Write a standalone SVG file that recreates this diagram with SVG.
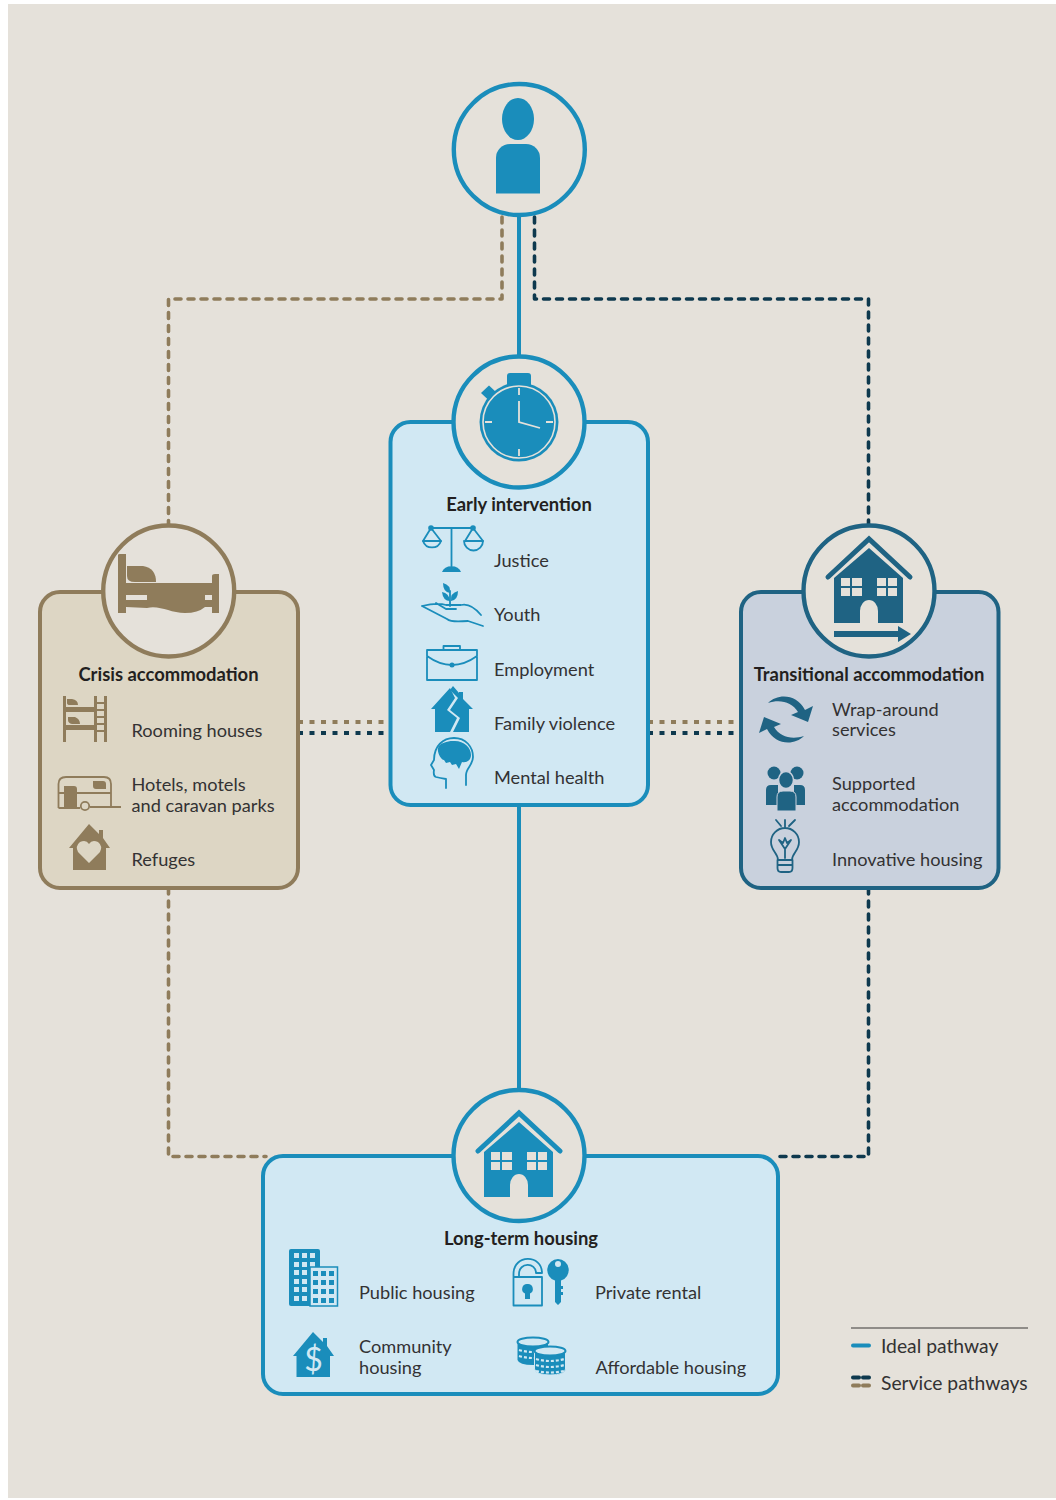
<svg xmlns="http://www.w3.org/2000/svg" width="1056" height="1500" viewBox="0 0 1056 1500">
<style>
text{font-family:"Lato","Liberation Sans",sans-serif;font-size:18.2px;fill:#333233}
.h{font-weight:700;font-size:18.4px;fill:#231f20;text-anchor:middle}
.lg{font-size:19.3px}
.box{stroke-width:4}
.ring{fill:#e5e1da;stroke-width:4.4}
.ideal{fill:none;stroke:#1a8dbb;stroke-width:4}
.tan{fill:none;stroke:#8f7c5b;stroke-width:3.6;stroke-dasharray:6 7;stroke-linecap:round;stroke-linejoin:round}
.navy{fill:none;stroke:#0e394e;stroke-width:3.6;stroke-dasharray:6 7;stroke-linecap:round;stroke-linejoin:round}
.tans{fill:none;stroke:#8f7c5b;stroke-width:4;stroke-dasharray:5 6.500}
.navys{fill:none;stroke:#0e394e;stroke-width:4;stroke-dasharray:5 6.500}
.b{fill:#1a8dbb}.bl{fill:none;stroke:#1a8dbb;stroke-width:1.8;stroke-linecap:round;stroke-linejoin:round}
.t{fill:#8f7c5b}.tl{fill:none;stroke:#8f7c5b;stroke-width:1.8}
.c{fill:#1f6383}.cl{fill:none;stroke:#1f6383;stroke-width:1.8;stroke-linecap:round;stroke-linejoin:round}
</style>
<defs>
<g id="house">
<path d="M478 1151L519 1113L560 1151" fill="none" stroke="currentColor" stroke-width="5" stroke-linecap="round" stroke-linejoin="miter"/>
<path d="M519 1122L553 1152V1197H528V1185A9 11 0 0 0 510 1185V1197H484V1152Z" fill="currentColor"/>
<path d="M491 1152h9v8h-9zM502 1152h10v8h-10zM491 1162h9v8h-9zM502 1162h10v8h-10zM527 1152h9v8h-9zM538 1152h9v8h-9zM527 1162h9v8h-9zM538 1162h9v8h-9z" fill="#e5e1da"/>
</g>
</defs>
<rect width="1056" height="1500" fill="#fff"/>
<rect x="8" y="4" width="1048" height="1494" fill="#e5e1da"/>

<g id="connectors">
<path class="ideal" d="M519 217V356M519 805V1090"/>
<path class="tan" d="M502 217V299H168.500V525"/>
<path class="navy" d="M534.500 217V299H868.500V525"/>
<path class="tan" d="M168.500 888V1156.500H266"/>
<path class="navy" d="M868.500 888V1156.500H775"/>
<path class="tans" d="M298 722H390M648 722H740"/>
<path class="navys" d="M298 733H390M648 733H740"/>
</g>

<g id="person">
<circle class="ring" cx="519.300" cy="149.500" r="65.500" stroke="#1a8dbb"/>
<ellipse class="b" cx="518" cy="119" rx="16" ry="21"/>
<path class="b" d="M496 193.500V158A14 14 0 0 1 510 144H526A14 14 0 0 1 540 158V193.500Z"/>
</g>

<g id="early-intervention">
<rect class="box" x="390.500" y="422" width="257.500" height="383" rx="20" fill="#d1e8f3" stroke="#1a8dbb"/>
<circle class="ring" cx="519" cy="422" r="65.500" stroke="#1a8dbb"/>
<path class="b" d="M507 385V376Q507 373 510 373H528Q531 373 531 376V385Z"/>
<path class="b" d="M481 393L489 385.500L497 393L489 400.500Z"/>
<circle class="b" cx="519" cy="422" r="39.500"/>
<circle cx="519" cy="422" r="36" fill="none" stroke="#e5e1da" stroke-width="1.6"/>
<path d="M519 388V395M519 449V456M485 422H492M546 422H553M519 401V422L540 428" fill="none" stroke="#e5e1da" stroke-width="1.8"/>
<text class="h" x="519" y="511">Early intervention</text>
<g id="icon-scale">
<path class="bl" d="M431 528H473M451.500 528V566M431 528L423 541H441ZM473 528L465 541H483Z"/>
<path class="bl" d="M423 541A9.500 9.500 0 0 0 441 541M464 541A9.500 9.500 0 0 0 483 541"/>
<circle class="b" cx="431" cy="528" r="2.800"/><circle class="b" cx="473" cy="528" r="2.800"/>
<path class="b" d="M442 572A10 8.500 0 0 1 461 572Z"/>
</g>
<g id="icon-hand">
<path class="bl" d="M422 606C430 604 440 603 446 605H461C469 603 476 609 481 615M422 606L447 619C452 623 461 621 468 621L483 626M436 603L446 609H456"/>
<path class="bl" d="M450 591V606"/>
<path class="b" d="M443 583Q451 585 450 593Q443 592 443 583ZM442 592Q449 593 450 601Q443 601 442 592ZM458 591Q458 600 451 601Q450 593 458 591Z"/>
</g>
<g id="icon-case">
<path class="bl" d="M427 650H477V680H427ZM443.500 650V646H460V650M427 656Q452 674 477 656"/>
<circle class="b" cx="452" cy="665" r="2.500"/>
</g>
<g id="icon-broken-house">
<path class="b" d="M450 688L431 709H435V732H450L457 718L447 710L455 698Z"/>
<path class="b" d="M453 686L459 693V692H463V699L473 709H469V732H453L460 718L450 710L458 698L450 690Z"/>
</g>
<g id="icon-head">
<path class="bl" d="M446 788V779Q440 778 436 777Q433 776 434 770L431 765L434 760C434 746 443 738 454 738C466 738 473 747 473 757C473 765 466 768 466 775V785"/>
<path class="b" d="M438 748C440 743 447 741 453 741C463 740 471 747 471 755C471 760 467 763 462 762L459 769L456 764L452 765L450 762L446 763L444 760C441 760 437 752 438 748Z"/>
</g>
<text x="494" y="567">Justice</text>
<text x="494" y="621">Youth</text>
<text x="494" y="676">Employment</text>
<text x="494" y="730">Family violence</text>
<text x="494" y="784">Mental health</text>
</g>

<g id="crisis-accommodation">
<rect class="box" x="40" y="592" width="258" height="296" rx="20" fill="#ddd6c4" stroke="#8f7c5b"/>
<circle class="ring" cx="168.700" cy="591" r="65.500" stroke="#8f7c5b"/>
<g id="icon-bed">
<path class="t" d="M118 555Q118 554 120 554H126V583H147H205H212V576Q212 574 215 574H219V613H212V607H205Q198 613 185 613C170 613 160 605 147 608L126 607V613H118ZM126 595V600H147V595ZM205 595V600H212V595Z" fill-rule="evenodd"/>
<path class="t" d="M127 566H143Q156 568 156 582H135Q127 582 127 576Z"/>
</g>
<text class="h" x="168.500" y="681">Crisis accommodation</text>
<g id="icon-bunk">
<path class="t" d="M63 696h3v46h-3zM94 696h3v46h-3zM104 696h3v46h-3zM66 707h28v5H66zM66 725h28v5H66zM97 702h7v2h-7zM97 709h7v2h-7zM97 716h7v2h-7zM97 723h7v2h-7zM97 730h7v2h-7z"/>
<path class="t" d="M67 699H72Q78 700 78 705H70Q67 705 67 703ZM68 717H75Q80 719 80 724H72Q68 723 68 720Z"/>
</g>
<g id="icon-caravan">
<path class="tl" d="M58.500 808V784Q58.500 777 66 777H104Q111 777 111 784V807M58.500 808H80M90 807H121M58.500 793H111"/>
<path class="t" d="M64 786H74Q77 786 77 789V808H64ZM93 781H103Q106 781 106 784V789H96Q93 789 93 786Z"/>
<circle cx="85" cy="806" r="4.200" fill="#ddd6c4" stroke="#8f7c5b" stroke-width="1.800"/>
</g>
<g id="icon-heart-house">
<path class="t" d="M89 824L99 834V830H103V838L110 848H106V870H73V848H69Z"/>
<path d="M89 863L78 852Q75 846 80 842Q86 839 89 844Q92 839 98 842Q103 846 100 852Z" fill="#ddd6c4"/>
</g>
<text x="131.500" y="737">Rooming houses</text>
<text x="131.500" y="791">Hotels, motels</text>
<text x="131.500" y="812">and caravan parks</text>
<text x="131.500" y="866">Refuges</text>
</g>

<g id="transitional-accommodation">
<rect class="box" x="741" y="592" width="257.500" height="296" rx="20" fill="#c9d1dd" stroke="#1f6383"/>
<circle class="ring" cx="869" cy="591" r="65.500" stroke="#1f6383"/>
<use href="#house" x="350" y="-574" color="#1f6383"/>
<path class="c" d="M834 631H898V626L911 634L898 642V637H834Z"/>
<text class="h" x="869" y="681">Transitional accommodation</text>
<g id="icon-arrows">
<path class="c" d="M768 703C778 693 797 694 805 710L813 706L808 722L791 715L798 712C792 702 780 699 768 703Z"/>
<path class="c" d="M768 703C778 693 797 694 805 710L813 706L808 722L791 715L798 712C792 702 780 699 768 703Z" transform="rotate(180 786 719.500)"/>
</g>
<g id="icon-people">
<circle class="c" cx="774" cy="773" r="6.500"/><circle class="c" cx="797" cy="773" r="6.500"/>
<path class="c" d="M766 805V790Q766 785 771 785H778V805ZM794 785H800Q805 785 805 790V805H794Z"/>
<ellipse class="c" cx="786" cy="780" rx="7.500" ry="8.500" stroke="#c9d1dd" stroke-width="1.500"/>
<path class="c" d="M777 811V797Q777 791 783 791H790Q796 791 796 797V811Z" stroke="#c9d1dd" stroke-width="1"/>
</g>
<g id="icon-bulb">
<path class="cl" d="M785 820V827M776 820L781 826M795 820L789 826M778 860C778 853 771 851 771 842A14 14 0 0 1 799 842C799 851 792 853 792 860M777.500 860H792.500V868Q792.500 872 789 872H781Q777.500 872 777.500 868ZM778 865H792"/>
<path class="cl" d="M785 858V849L779 840L783 843L785 838L787 843L791 840L785 849"/>
</g>
<text x="832" y="716">Wrap-around</text>
<text x="832" y="736">services</text>
<text x="832" y="790">Supported</text>
<text x="832" y="811">accommodation</text>
<text x="832" y="866">Innovative housing</text>
</g>

<g id="long-term-housing">
<rect class="box" x="263" y="1156" width="515" height="238" rx="20" fill="#d1e8f3" stroke="#1a8dbb"/>
<circle class="ring" cx="519" cy="1155.500" r="65.500" stroke="#1a8dbb"/>
<use href="#house" color="#1a8dbb"/>
<text class="h" x="521" y="1245">Long-term housing</text>
<g id="icon-buildings">
<path class="b" d="M289 1251Q289 1249 291 1249H318Q320 1249 320 1251V1306H291Q289 1306 289 1304Z"/>
<path d="M294 1253h5v5h-5zM302 1253h5v5h-5zM310 1253h5v5h-5zM294 1262h5v5h-5zM302 1262h5v5h-5zM310 1262h5v5h-5zM294 1270h5v5h-5zM302 1270h5v5h-5zM294 1279h5v5h-5zM302 1279h5v5h-5zM294 1287h5v5h-5zM302 1287h5v5h-5zM294 1296h5v5h-5zM302 1296h5v5h-5z" fill="#d1e8f3"/>
<rect x="310" y="1267" width="27.500" height="39" fill="#d1e8f3" stroke="#1a8dbb" stroke-width="1.500"/>
<path class="b" d="M313 1271h5v5h-5zM321 1271h5v5h-5zM329 1271h5v5h-5zM313 1280h5v5h-5zM321 1280h5v5h-5zM329 1280h5v5h-5zM313 1289h5v5h-5zM321 1289h5v5h-5zM329 1289h5v5h-5zM313 1298h5v5h-5zM321 1298h5v5h-5zM329 1298h5v5h-5z"/>
</g>
<g id="icon-lock-key">
<path class="bl" d="M513.500 1277H542V1305.500H513.500V1274C513.500 1254 542 1254 542 1273H536C536 1262 519 1262 519 1274V1277"/>
<path class="b" d="M527.500 1284A5 5 0 0 1 530 1293.500V1299H525V1293.500A5 5 0 0 1 527.500 1284Z"/>
<path class="b" d="M558 1259A11 11 0 0 1 561 1280.500V1286H563V1289H561V1292H563V1295H561V1302L558 1305L555 1302V1280.500A11 11 0 0 1 558 1259ZM558 1261A3 3 0 0 0 558 1267A3 3 0 0 0 558 1261Z" fill-rule="evenodd"/>
</g>
<g id="icon-dollar-house">
<path class="b" d="M313 1332L323 1342V1338H327V1346L334 1356H330V1377H296.500V1356H293Z"/>
<text x="313.500" y="1371" style="font-size:32px;fill:#d1e8f3;text-anchor:middle">$</text>
</g>
<g id="icon-coins">
<path d="M517.500 1342V1360Q519 1365 533 1365H548V1342" fill="#1a8dbb"/>
<ellipse cx="533" cy="1342" rx="15.500" ry="4.500" fill="#d1e8f3" stroke="#1a8dbb" stroke-width="2"/>
<path d="M519 1350Q533 1354 547 1350M519 1356Q533 1360 547 1356" fill="none" stroke="#d1e8f3" stroke-width="2.200" stroke-dasharray="3 2"/>
<path d="M534.500 1351V1369Q536 1375 550 1375Q565 1375 565.500 1369V1351" fill="#1a8dbb" stroke="#d1e8f3" stroke-width="1"/>
<ellipse cx="550" cy="1351" rx="15.500" ry="4.500" fill="#d1e8f3" stroke="#1a8dbb" stroke-width="2"/>
<path d="M536 1359Q550 1363 564 1359M536 1365Q550 1369 564 1365M536 1371Q550 1374 564 1371" fill="none" stroke="#d1e8f3" stroke-width="2.200" stroke-dasharray="3 2"/>
</g>
<text x="359" y="1299">Public housing</text>
<text x="595" y="1299">Private rental</text>
<text x="359" y="1353">Community</text>
<text x="359" y="1374">housing</text>
<text x="595.500" y="1374">Affordable housing</text>
</g>

<g id="legend">
<path d="M851 1328H1028" stroke="#3a3936" stroke-width="1.200"/>
<path d="M853 1345.500H869" stroke="#1a8dbb" stroke-width="4" stroke-linecap="round"/>
<path d="M853 1377.500H859M863 1377.500H869" stroke="#0e394e" stroke-width="4" stroke-linecap="round"/>
<path d="M853 1385.500H859M863 1385.500H869" stroke="#8f7c5b" stroke-width="4" stroke-linecap="round"/>
<text class="lg" x="881" y="1353">Ideal pathway</text>
<text class="lg" x="881" y="1390">Service pathways</text>
</g>
</svg>
